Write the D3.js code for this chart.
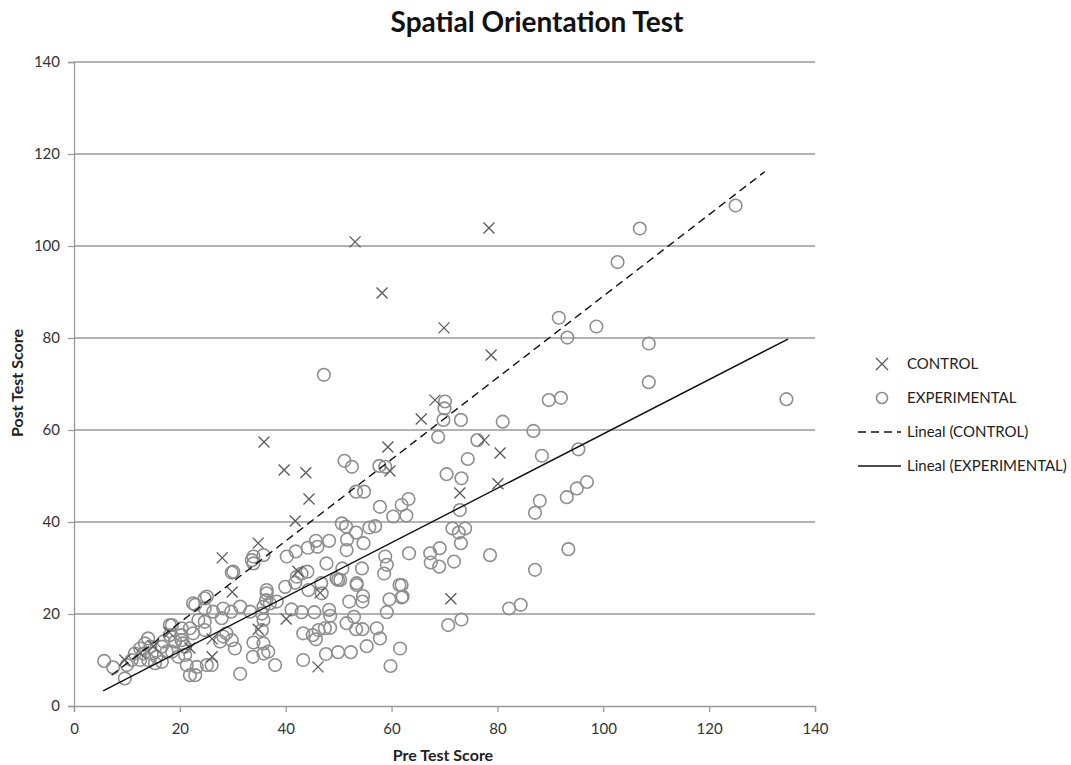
<!DOCTYPE html>
<html>
<head>
<meta charset="utf-8">
<script src="https://cdn.jsdelivr.net/npm/d3@7"></script>
<style>
  body { margin: 0; background: #fff; }
  text { font-family: Lato, "Open Sans", sans-serif; }
</style>
</head>
<body>
<div id="chart"></div>
<script>
// CONTROL group [pre, post]
var controlPoints = [
  [53.1,100.9],[78.4,103.9],[58.2,89.8],[69.9,82.2],[78.8,76.3],[65.6,62.4],[68.2,66.5],
  [35.9,57.4],[39.7,51.3],[43.8,50.7],[59.3,56.3],[59.7,51.1],[77.5,57.8],[80.5,55.0],
  [72.9,46.3],[80.1,48.3],[71.2,23.3],[44.4,45.0],[41.8,40.2],[34.8,35.4],[28.0,32.2],
  [42.3,29.3],[46.5,24.6],[29.9,24.8],[40.1,18.9],[34.8,16.7],[46.1,8.5],[26.1,14.6],
  [26.1,10.7],[21.9,12.6],[9.6,10.0],[12.5,11.5],[15.0,13.0],[18.0,16.0]
];

// EXPERIMENTAL group [pre, post]
var experimentalPoints = [
  [125.0,108.8],[106.9,103.8],[102.7,96.5],[91.6,84.4],[93.2,80.1],[98.7,82.5],[108.6,78.8],
  [108.6,70.4],[134.6,66.7],[89.7,66.5],[92.0,67.0],[70.1,66.2],[70.0,64.7],[69.8,62.2],
  [68.8,58.5],[73.1,62.2],[81.0,61.8],[86.8,59.8],[76.2,57.8],[74.4,53.7],[88.4,54.4],
  [95.3,55.8],[70.4,50.4],[73.2,49.5],[96.9,48.7],[95.0,47.3],[93.1,45.4],[88.0,44.6],
  [87.1,42.0],[63.2,45.0],[61.9,43.7],[62.8,41.4],[72.9,42.6],[71.5,38.6],[72.7,37.7],
  [73.9,38.6],[73.1,35.4],[69.1,34.3],[67.3,33.2],[67.4,31.2],[69.0,30.3],[71.8,31.4],
  [78.6,32.8],[93.4,34.1],[63.3,33.2],[61.9,26.3],[62.1,23.8],[87.1,29.6],[82.2,21.2],
  [84.4,22.0],[70.7,17.6],[73.2,18.8],[47.2,72.0],
  [51.1,53.3],[52.5,52.0],[57.7,52.2],[58.8,52.0],[53.3,46.6],[54.8,46.6],[57.8,43.3],
  [60.3,41.2],[50.6,39.7],[51.4,39.0],[53.3,37.7],[55.8,38.8],[56.9,39.1],[54.7,35.4],
  [51.6,36.2],[51.5,33.9],[50.7,29.9],[50.3,27.4],[54.4,29.9],[53.4,26.7],[52.0,22.7],
  [54.5,22.7],[54.6,23.9],[52.9,19.4],[53.3,16.7],[54.5,16.7],[51.5,18.0],[57.2,16.9],
  [57.8,14.7],[55.3,13.0],[52.3,11.7],[49.9,11.7],[47.6,11.3],[59.8,8.7],[61.6,12.5],
  [61.5,26.3],[59.6,23.2],[61.9,23.6],[59.1,20.4],[58.6,28.8],[47.7,31.0],[48.2,20.9],
  [48.4,19.6],[48.4,17.0],[47.4,16.9],[45.4,20.4],[43.0,20.4],[41.1,21.0],[44.3,25.2],
  [41.8,26.8],[43.0,28.8],[44.1,29.2],[46.7,26.7],[46.8,24.5],[39.9,25.9],[40.2,32.5],
  [41.9,33.6],[44.2,34.4],[45.7,35.9],[46.0,34.6],[48.2,35.9],[49.6,27.7],[58.8,32.5],
  [59.1,30.7],[49.9,27.4],[42.1,28.1],[53.4,26.3],[45.7,14.5],[45.1,15.4],[43.3,15.8],
  [46.2,16.5],[43.3,10.0],[38.0,8.9],[35.8,11.4],[36.7,11.8],[33.9,13.8],[33.8,10.7],
  [35.8,13.6],[35.5,16.5],[31.4,7.0],[30.4,12.5],[29.8,14.3],[36.4,24.5],[36.4,25.2],
  [36.3,23.0],[37.0,22.3],[35.8,21.6],[35.8,18.7],[35.5,20.1],[33.3,20.5],[31.4,21.6],
  [38.3,22.7],[33.9,31.0],[33.6,31.7],[35.8,32.8],[30.1,29.2],[33.9,32.5],[29.8,29.0],
  [29.7,20.5],[28.2,21.2],[27.9,19.1],[24.7,23.4],[22.9,22.0],[24.7,21.2],[26.3,20.5],
  [23.5,18.7],[24.7,18.3],[21.9,16.9],[22.5,15.8],[24.7,16.5],[20.3,15.4],[20.6,13.6],
  [28.2,15.1],[28.8,15.8],[21.0,11.1],[23.2,8.5],[25.1,8.9],[26.0,8.9],[22.9,6.7],
  [27.6,14.0],[25.1,23.8],[22.5,22.3],[18.1,17.6],
  [5.7,9.8],[7.4,8.4],[9.6,6.0],[18.5,17.6],[20.3,16.9],[18.1,15.4],[19.1,14.0],[20.3,14.3],
  [21.0,12.9],[17.5,11.8],[18.5,11.8],[16.6,9.6],[21.3,8.9],[21.9,6.7],[19.7,10.7],
  [13.4,13.6],[14.4,12.9],[12.5,12.5],[11.5,11.4],[13.1,11.4],[14.7,11.4],[10.9,10.0],
  [12.5,10.0],[14.0,10.0],[15.6,10.7],[10.0,8.9],[15.3,9.3],[16.6,12.9],[16.9,14.0],[14.0,14.7]
];

// linear trendlines: [slope, intercept, xStart, xEnd]
var trendControl = [0.887, 0.4, 7.1, 130.5];
var trendExperimental = [0.591, 0.05, 5.5, 134.9];

var tickValues = [0, 20, 40, 60, 80, 100, 120, 140];

var W = 1071, H = 765;
var svg = d3.select("#chart").append("svg")
    .attr("width", W)
    .attr("height", H);

var x = d3.scaleLinear().domain([0, 140]).range([74, 815]);
var y = d3.scaleLinear().domain([0, 140]).range([706, 62]);

// gridlines
svg.append("g")
    .selectAll("line")
    .data(tickValues.slice(1))
    .enter().append("line")
    .attr("x1", x(0)).attr("x2", x(140))
    .attr("y1", d => y(d)).attr("y2", d => y(d))
    .attr("stroke", "#9a9a9a")
    .attr("stroke-width", 1.3);

// axes
var xAxis = svg.append("g")
    .attr("transform", "translate(0," + y(0) + ")")
    .call(d3.axisBottom(x).tickValues(tickValues).tickSize(6).tickPadding(11));
var yAxis = svg.append("g")
    .attr("transform", "translate(" + x(0) + ",0)")
    .call(d3.axisLeft(y).tickValues(tickValues).tickSize(6).tickPadding(8));

[xAxis, yAxis].forEach(function(a){
    a.select(".domain").attr("stroke", "#9a9a9a").attr("stroke-width", 1.3);
    a.selectAll(".tick line").attr("stroke", "#9a9a9a").attr("stroke-width", 1.3);
    a.selectAll(".tick text")
        .attr("fill", "#333")
        .style("font-family", "Lato, 'Open Sans', sans-serif")
        .style("font-size", "15px");
});

// trendlines
function trendLine(t) {
    return [[t[2], t[0]*t[2] + t[1]], [t[3], t[0]*t[3] + t[1]]];
}
var line = d3.line().x(d => x(d[0])).y(d => y(d[1]));

// experimental points
svg.append("g")
    .selectAll("circle")
    .data(experimentalPoints)
    .enter().append("circle")
    .attr("cx", d => x(d[0]))
    .attr("cy", d => y(d[1]))
    .attr("r", 6.3)
    .attr("fill", "none")
    .attr("stroke", "#8e8e8e")
    .attr("stroke-width", 1.6);

// control points
var cs = 5.5;
svg.append("g")
    .selectAll("path")
    .data(controlPoints)
    .enter().append("path")
    .attr("d", function(d) {
        var cx = x(d[0]), cy = y(d[1]);
        return "M" + (cx-cs) + "," + (cy-cs) + "L" + (cx+cs) + "," + (cy+cs) +
               "M" + (cx-cs) + "," + (cy+cs) + "L" + (cx+cs) + "," + (cy-cs);
    })
    .attr("stroke", "#5a5a5a")
    .attr("stroke-width", 1.3)
    .attr("fill", "none");

svg.append("path")
    .attr("d", line(trendLine(trendControl)))
    .attr("stroke", "#111")
    .attr("stroke-width", 1.4)
    .attr("stroke-dasharray", "8,5")
    .attr("fill", "none");

svg.append("path")
    .attr("d", line(trendLine(trendExperimental)))
    .attr("stroke", "#111")
    .attr("stroke-width", 1.4)
    .attr("fill", "none");

// title + axis labels
svg.append("text")
    .attr("x", 537).attr("y", 32)
    .attr("text-anchor", "middle")
    .style("font-size", "28px")
    .style("font-weight", "bold")
    .attr("fill", "#111")
    .text("Spatial Orientation Test");

svg.append("text")
    .attr("x", 443).attr("y", 761)
    .attr("text-anchor", "middle")
    .style("font-size", "16px")
    .style("font-weight", "bold")
    .attr("fill", "#222")
    .text("Pre Test Score");

svg.append("text")
    .attr("transform", "translate(23,383) rotate(-90)")
    .attr("text-anchor", "middle")
    .style("font-size", "16px")
    .style("font-weight", "bold")
    .attr("fill", "#222")
    .text("Post Test Score");

// legend
var legendItems = ["CONTROL", "EXPERIMENTAL", "Lineal (CONTROL)", "Lineal (EXPERIMENTAL)"];
var legend = svg.append("g");
legendItems.forEach(function(name, i) {
    var ly = 364 + i * 34;
    legend.append("text")
        .attr("x", 907).attr("y", ly + 5)
        .style("font-size", "15px")
        .attr("fill", "#222")
        .text(name);
    if (i === 0) {
        legend.append("path")
            .attr("d", "M876," + (ly-6) + "L888," + (ly+6) + "M876," + (ly+6) + "L888," + (ly-6))
            .attr("stroke", "#5a5a5a").attr("stroke-width", 1.3);
    } else if (i === 1) {
        legend.append("circle")
            .attr("cx", 882).attr("cy", ly).attr("r", 5.5)
            .attr("fill", "none").attr("stroke", "#8e8e8e").attr("stroke-width", 1.6);
    } else {
        legend.append("line")
            .attr("x1", 858).attr("x2", 901)
            .attr("y1", ly).attr("y2", ly)
            .attr("stroke", "#111").attr("stroke-width", 1.4)
            .attr("stroke-dasharray", i === 2 ? "8,5" : null);
    }
});
</script>
</body>
</html>
